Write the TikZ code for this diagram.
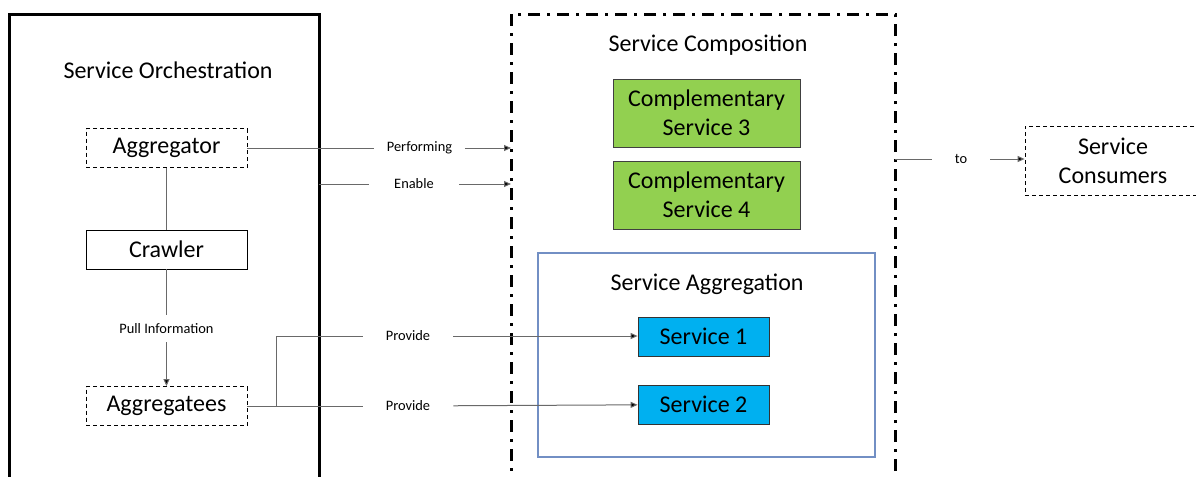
\documentclass[tikz,border=0pt]{standalone}
\usepackage{fontspec}
\setmainfont{Carlito}
\usetikzlibrary{arrows.meta}
\definecolor{compgreen}{RGB}{146,208,80}
\definecolor{servblue}{RGB}{0,176,240}
\definecolor{aggrframe}{RGB}{114,143,196}
\definecolor{linegray}{RGB}{105,105,105}
\begin{document}
\begin{tikzpicture}[x=0.5pt,y=-0.5pt,
	bigtext/.style={font=\fontsize{12}{14.5}\selectfont,align=center},
	leftbox/.style={bigtext,draw,inner sep=0pt,minimum width=80.5pt,minimum height=19.5pt},
	dashbox/.style={leftbox,dashed,dash pattern=on 2pt off 1.5pt},
	greenbox/.style={bigtext,draw=black!75,fill=compgreen,inner sep=0pt,minimum width=93.5pt,minimum height=34pt},
	bluebox/.style={bigtext,draw=black!80,fill=servblue,inner sep=0pt,minimum width=65.5pt,minimum height=19.5pt},
	lbl/.style={fill=white,inner sep=0pt,minimum height=13.5pt,minimum width=45pt,font=\fontsize{7.2}{8}\selectfont},
	conn/.style={draw=linegray,line width=0.5pt},
	arr/.style={conn,-{Triangle[length=3.5pt,width=3pt,fill=black]}},
	dashdot/.style={line width=1.5pt,dash pattern=on 6pt off 3.5pt on 1.5pt off 3.5pt}]
			\clip (0,0) rectangle (1196,477);
			\fill[white] (0,0) rectangle (1196,477);
			\draw[line width=1.5pt] (9,14) rectangle (319,500);
			\draw[dashdot] (511,14) rectangle (895,500);
			\draw[aggrframe,line width=0.6pt] (538,253) rectangle (875,457);
			\node[bigtext] (orchtitle) at (168,70) {Service Orchestration};
			\node[bigtext] (comptitle) at (708,45) {Service Composition};
			\node[bigtext] (aggrtitle) at (707,284) {Service Aggregation};
			\node[dashbox] (aggr) at (166.5,148) {Aggregator};
			\node[leftbox] (crawl) at (166.5,249.5) {Crawler};
			\node[dashbox] (aggtees) at (166.5,406) {Aggregatees};
			\node[greenbox] (comp3) at (706.5,113) {Complementary\\Service 3};
			\node[greenbox] (comp4) at (706.5,195) {Complementary\\Service 4};
			\node[bluebox] (serv1) at (703.5,336.5) {Service 1};
			\node[bluebox] (serv2) at (703.5,404.5) {Service 2};
			\node[dashbox,minimum width=88pt,minimum height=34.5pt] (cons) at (1113,160.5) {Service\\Consumers};
			\node[lbl,minimum width=80.5pt] (pull) at (166.5,328.5) {Pull Information};
			\node[lbl] (perf) at (419.5,148) {Performing};
			\node[lbl] (enab) at (414,184) {Enable};
			\node[lbl] (prov1) at (408,336) {Provide};
			\node[lbl] (prov2) at (408,406) {Provide};
			\node[lbl,minimum width=29pt] (tolbl) at (961,159) {to};
			\coordinate (perfend) at (511,148);
			\coordinate (enabstart) at (319,184);
			\coordinate (enabend) at (511,184);
			\coordinate (split) at (276,406);
			\coordinate (toout) at (895,159);
			\draw[conn] (aggr) -- (crawl);
			\draw[conn] (crawl) -- (pull);
			\draw[arr] (pull) -- (aggtees);
			\draw[conn] (aggr) -- (perf);
			\draw[arr] (perf) -- (perfend);
			\draw[conn] (enabstart) -- (enab);
			\draw[arr] (enab) -- (enabend);
			\draw[conn] (aggtees) -- (prov2);
			\draw[conn] (split) |- (prov1);
			\draw[arr] (prov1) -- (serv1.west |- prov1);
			\draw[arr] (prov2) -- (serv2);
			\draw[conn] (toout) -- (tolbl);
			\draw[arr] (tolbl) -- (cons.west |- tolbl);
		\end{tikzpicture}
\end{document}
